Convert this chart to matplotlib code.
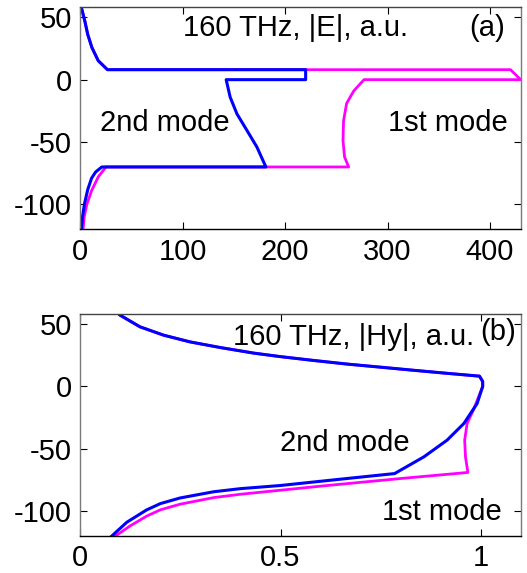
import matplotlib
matplotlib.use('Agg')
import matplotlib.pyplot as plt

plt.rcParams['font.family'] = ['Liberation Sans', 'DejaVu Sans']
plt.rcParams['axes.unicode_minus'] = False

# panel (a): |E| (a.u.) vs position
e1_x = [1, 4.4, 7.2, 11.3, 17.5, 26.5, 420, 430, 277, 267, 260, 257, 256.5, 258, 262,
        25, 17.5, 11, 6.4, 3.8, 2.7]
e1_y = [58, 47, 36.4, 25.8, 15.2, 8, 8, 0, 0, -9, -19, -33, -49, -62, -70,
        -70, -78, -89, -100, -110, -120]

e2_x = [1, 4.4, 7.2, 11.3, 17.5, 26.5, 220, 220, 142.4, 146.3, 152.9, 162.7, 172.4, 181.2,
        21, 15, 11, 7.3, 4.2, 2.3, 1]
e2_y = [58, 47, 36.4, 25.8, 15.2, 8, 8, 0, 0, -14, -27.4, -40.7, -54, -70,
        -70, -74, -79, -88, -99, -109, -120]

# panel (b): |Hy| (a.u.) vs position
top_x = [0.099, 0.149, 0.208, 0.274, 0.349, 0.433, 0.499, 0.58, 0.666, 0.75, 0.833, 0.915,
         0.997, 1.005, 1.005]
top_y = [57.3, 47.9, 41.2, 35.8, 31.3, 26.8, 24, 21, 18, 15.5, 13, 10.6, 8.3, 4, 0]

h1_x = top_x + [0.995, 0.983, 0.966, 0.96, 0.962, 0.968,
                0.799, 0.6, 0.499, 0.4, 0.333, 0.249, 0.2, 0.166, 0.124, 0.087]
h1_y = top_y + [-8, -18, -29.7, -43.1, -56.5, -69,
                -73.9, -80, -83.3, -86.5, -89.2, -94.5, -99, -104, -112, -120.2]

h2_x = top_x + [0.991, 0.958, 0.916, 0.858, 0.785,
                0.641, 0.499, 0.4, 0.333, 0.249, 0.2, 0.166, 0.116, 0.078]
h2_y = top_y + [-13.7, -29.7, -43.1, -56.5, -69.9,
                -74.7, -79.5, -82, -84.5, -89.5, -94, -99, -109, -120.2]

yticks = [-100, -50, 0, 50]


def style(ax):
    ax.tick_params(direction='in', top=True, right=True, length=5,
                   labelsize=21, pad=6)
    ax.spines['left'].set_color('#7a7a7a')
    ax.spines['right'].set_color('#7a7a7a')
    ax.spines['top'].set_color('#444444')
    ax.spines['bottom'].set_color('black')
    for s in ax.spines.values():
        s.set_linewidth(1.0)
    ax.set_yticks(yticks)
    ax.set_ylim(-120, 58)


fig = plt.figure(figsize=(5.27, 5.73), dpi=100)

ax1 = fig.add_axes([0.1524, 0.5998, 0.8357, 0.3874])
ax1.plot(e1_x, e1_y, color='#ff00ff', lw=2)
ax1.plot(e2_x, e2_y, color='#0000ff', lw=2.2)
ax1.set_xlim(0, 430)
ax1.set_xticks([0, 100, 200, 300, 400])
style(ax1)
ax1.text(183 / 527, 0.952, '160 THz, |E|, a.u.', transform=fig.transFigure,
         fontsize=21, va='center')
ax1.text(469 / 527, 0.952, '(a)', transform=fig.transFigure, fontsize=21, va='center')
ax1.text(100 / 527, 1 - 123 / 573, '2nd mode', transform=fig.transFigure,
         fontsize=21, va='center')
ax1.text(388 / 527, 1 - 123 / 573, '1st mode', transform=fig.transFigure,
         fontsize=21, va='center')

ax2 = fig.add_axes([0.1524, 0.0646, 0.8357, 0.3870])
ax2.plot(h1_x, h1_y, color='#ff00ff', lw=2)
ax2.plot(h2_x, h2_y, color='#0000ff', lw=2.2)
ax2.set_xlim(0, 1.1)
ax2.set_xticks([0, 0.5, 1])
ax2.set_xticklabels(['0', '0.5', '1'])
style(ax2)
ax2.text(233 / 527, 1 - 337 / 573, '160 THz, |Hy|, a.u.', transform=fig.transFigure,
         fontsize=21, va='center')
ax2.text(480 / 527, 1 - 332 / 573, '(b)', transform=fig.transFigure, fontsize=21, va='center')
ax2.text(280 / 527, 1 - 443 / 573, '2nd mode', transform=fig.transFigure,
         fontsize=21, va='center')
ax2.text(382 / 527, 1 - 512 / 573, '1st mode', transform=fig.transFigure,
         fontsize=21, va='center')

fig.savefig('out.png', dpi=100)
